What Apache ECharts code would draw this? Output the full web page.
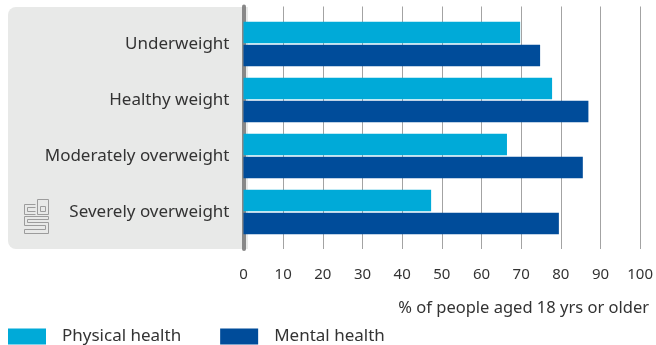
<!DOCTYPE html>
<html>
<head>
<meta charset="utf-8">
<script src="https://cdn.jsdelivr.net/npm/echarts@6/dist/echarts.min.js"></script>
<style>
  html, body { margin: 0; padding: 0; background: #fff; }
  #chart { width: 656px; height: 345px; }
</style>
</head>
<body>
<div id="chart"></div>
<script>
// data
var categories = ['Underweight', 'Healthy weight', 'Moderately overweight', 'Severely overweight'];
var physical = [69.3, 77.3, 66.0, 47.0];
var mental = [74.3, 86.4, 85.0, 79.0];
var xTicks = [0, 10, 20, 30, 40, 50, 60, 70, 80, 90, 100];

var FONT = '"Noto Sans", sans-serif';
var chart = echarts.init(document.getElementById('chart'));

var option = {
    animation: false,
    textStyle: { fontFamily: FONT },
    graphic: [
        {
            type: 'rect', z: -10, silent: true,
            shape: { x: 8, y: 7, width: 240, height: 242, r: [8, 0, 0, 8] },
            style: { fill: '#e8e9e8' }
        },
        {
            type: 'group', left: 22, top: 197, silent: true,
            children: [
                { type: 'polyline', shape: { points: [[12, 6], [1, 6], [1, 16], [12, 16]] }, style: { stroke: '#9c9c9c', fill: null, lineWidth: 1 } },
                { type: 'polyline', shape: { points: [[12, 9], [4, 9], [4, 13], [12, 13]] }, style: { stroke: '#9c9c9c', fill: null, lineWidth: 1 } },
                { type: 'rect', shape: { x: 14, y: 1, width: 11, height: 15 }, style: { stroke: '#9c9c9c', fill: null, lineWidth: 1 } },
                { type: 'rect', shape: { x: 17, y: 8, width: 5, height: 5 }, style: { stroke: '#9c9c9c', fill: null, lineWidth: 1 } },
                { type: 'polyline', shape: { points: [[25, 18], [1, 18], [1, 27], [22, 27], [22, 31], [1, 31], [1, 35], [25, 35], [25, 24], [4, 24], [4, 21], [25, 21], [25, 18]] }, style: { stroke: '#9c9c9c', fill: null, lineWidth: 1 } }
            ]
        }
    ],
    title: {
        text: '% of people aged 18 yrs or older',
        right: 2, top: 295,
        textStyle: { fontFamily: FONT, fontSize: 16.5, fontWeight: 'normal', color: '#333' }
    },
    legend: {
        left: 8, top: 328, padding: 0,
        itemWidth: 38, itemHeight: 16, itemGap: 39,
        icon: 'rect',
        textStyle: { fontFamily: FONT, fontSize: 17, lineHeight: 16, color: '#333', padding: [0, 0, 0, 11] },
        data: ['Physical health', 'Mental health']
    },
    grid: [
        { left: 243.5, right: 13.3, top: 16, height: 224 },
        { left: 243.5, right: 13.3, top: 6.5, height: 242.5 }
    ],
    xAxis: [
        {
            gridIndex: 0, type: 'value', min: 0, max: 100, interval: 10,
            axisLine: { show: false }, axisTick: { show: false },
            axisLabel: { show: false }, splitLine: { show: false }
        },
        {
            gridIndex: 1, type: 'value', min: 0, max: 100, interval: 10,
            axisLine: { show: false }, axisTick: { show: false },
            axisLabel: {
                margin: 18, fontFamily: FONT, fontSize: 15, color: '#333',
                formatter: function (v) { return xTicks.indexOf(v) >= 0 ? String(v) : ''; }
            },
            splitLine: { show: true, lineStyle: { color: '#a3a3a3', width: 1 } }
        }
    ],
    yAxis: [
        {
            gridIndex: 0, type: 'category', inverse: true, data: categories,
            axisLine: { show: false }, axisTick: { show: false },
            axisLabel: { margin: 14, fontFamily: FONT, fontSize: 17, color: '#333', padding: [0, 0, 4, 0] }
        },
        {
            gridIndex: 1, type: 'value', min: 0, max: 1,
            axisLine: { show: true, lineStyle: { color: '#888', width: 4 } },
            axisTick: { show: false }, axisLabel: { show: false }, splitLine: { show: false }
        }
    ],
    series: [
        {
            name: 'Physical health', type: 'bar', xAxisIndex: 0, yAxisIndex: 0,
            barWidth: 21.5, barGap: '7%', itemStyle: { color: '#00aad8' },
            data: physical, z: 3
        },
        {
            name: 'Mental health', type: 'bar', xAxisIndex: 0, yAxisIndex: 0,
            barWidth: 21.5, barGap: '7%', itemStyle: { color: '#004c9a' },
            data: mental, z: 3
        }
    ]
};

chart.setOption(option);
</script>
</body>
</html>
